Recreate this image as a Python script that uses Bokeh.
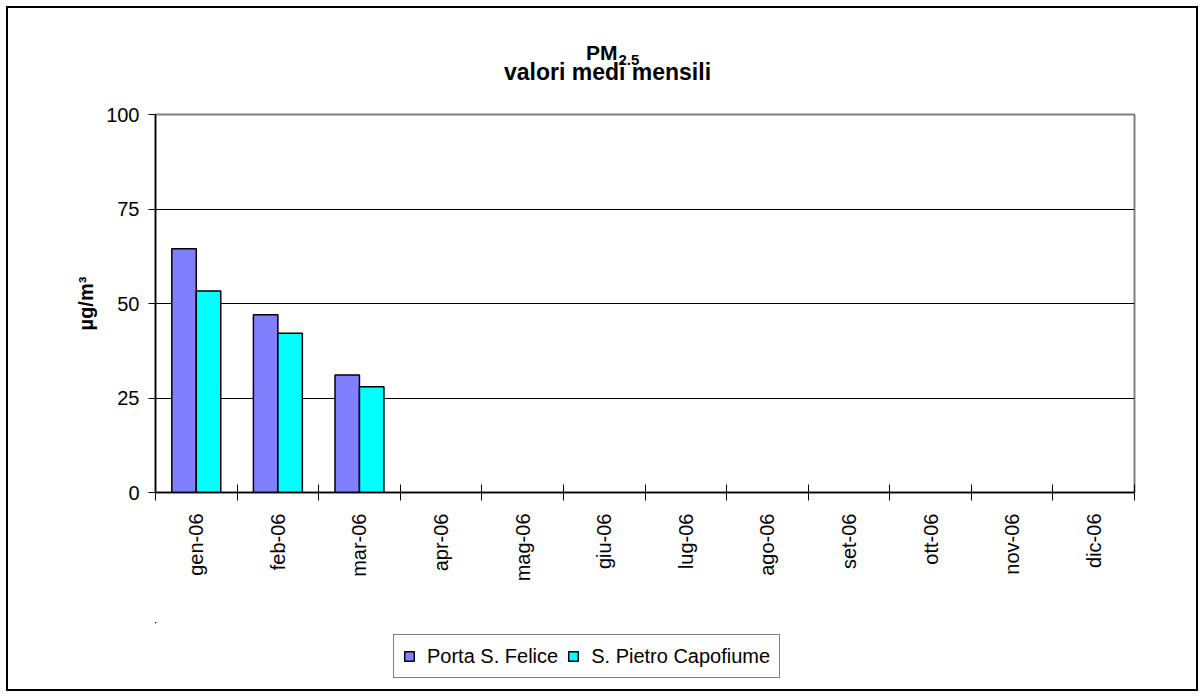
import math
from bokeh.plotting import figure
from bokeh.layouts import column
from bokeh.models import (Range1d, FixedTicker, Legend, LegendItem, ColumnDataSource, Label)
from bokeh.embed import file_html
from bokeh.resources import INLINE

# ---- data ----
months = ["gen-06", "feb-06", "mar-06", "apr-06", "mag-06", "giu-06",
          "lug-06", "ago-06", "set-06", "ott-06", "nov-06", "dic-06"]
porta_s_felice = [64.5, 47.0, 31.1]          # only first three months available
s_pietro_capofiume = [53.3, 42.1, 28.0]
y_ticks = [0, 25, 50, 75, 100]
series_names = ["Porta S. Felice", "S. Pietro Capofiume"]
series_colors = ["#8080FF", "#00FFFF"]
title_main = "PM"
title_sub = "2.5"
title_line2 = "valori medi mensili"
y_label = "µg/m³"

FONT = "Liberation Sans"
LEFT, RIGHT, FRAME_W = 155, 70, 979

n = len(months)
centers = [i + 0.5 for i in range(n)]
bar_w = 0.3

src1 = ColumnDataSource(dict(x=[centers[i] - bar_w / 2 for i in range(len(porta_s_felice))],
                             top=porta_s_felice))
src2 = ColumnDataSource(dict(x=[centers[i] + bar_w / 2 for i in range(len(s_pietro_capofiume))],
                             top=s_pietro_capofiume))


def strip(frame_h):
    f = figure(frame_width=FRAME_W, frame_height=frame_h,
               min_border_left=LEFT, min_border_right=RIGHT,
               min_border_top=0, min_border_bottom=0,
               x_axis_location=None, y_axis_location=None,
               output_backend="svg", toolbar_location=None, tools="", title=None)
    f.outline_line_color = None
    f.background_fill_alpha = 0
    f.border_fill_alpha = 0
    f.grid.visible = False
    return f


# ---------------- title strip (frame in pixel units) ----------------
hd = strip(95)
hd.x_range = Range1d(0, FRAME_W)
hd.y_range = Range1d(0, 95)
hd.add_layout(Label(x=462, y=43, text=title_main, text_align="right", text_baseline="alphabetic",
                    text_font=FONT, text_font_style="bold", text_font_size="21px", text_color="black"))
hd.add_layout(Label(x=463, y=36, text=title_sub, text_align="left", text_baseline="alphabetic",
                    text_font=FONT, text_font_style="bold", text_font_size="15px", text_color="black"))
hd.add_layout(Label(x=452, y=24, text=title_line2, text_align="center", text_baseline="alphabetic",
                    text_font=FONT, text_font_style="bold", text_font_size="23px", text_color="black"))

# ---------------- main chart ----------------
p = figure(frame_width=FRAME_W, frame_height=378,
           min_border_left=LEFT, min_border_right=RIGHT,
           min_border_top=19, min_border_bottom=130,
           x_range=Range1d(0, n), y_range=Range1d(y_ticks[0], y_ticks[-1]),
           output_backend="svg", toolbar_location=None, tools="", title=None)
p.background_fill_color = "white"
p.border_fill_alpha = 0
p.outline_line_color = "#808080"
p.outline_line_width = 2

p.vbar(x="x", top="top", width=bar_w, bottom=0, source=src1,
       fill_color=series_colors[0], line_color="black", line_width=1.5)
p.vbar(x="x", top="top", width=bar_w, bottom=0, source=src2,
       fill_color=series_colors[1], line_color="black", line_width=1.5)

xa = p.xaxis[0]
xa.ticker = FixedTicker(ticks=centers, minor_ticks=list(range(n + 1)))
xa.major_label_overrides = {c: m for c, m in zip(centers, months)}
xa.major_tick_in = 0
xa.major_tick_out = 0
xa.minor_tick_in = 8
xa.minor_tick_out = 8
xa.minor_tick_line_color = "black"
xa.axis_line_color = "black"
xa.axis_line_width = 1.5
xa.major_label_orientation = math.pi / 2
xa.major_label_standoff = 13
xa.major_label_text_font = FONT
xa.major_label_text_font_size = "20px"
xa.major_label_text_color = "black"

ya = p.yaxis[0]
ya.ticker = FixedTicker(ticks=y_ticks)
ya.major_tick_in = 0
ya.major_tick_out = 7
ya.minor_tick_out = 0
ya.minor_tick_in = 0
ya.major_tick_line_color = "black"
ya.axis_line_color = "black"
ya.axis_line_width = 1.5
ya.major_label_standoff = 9
ya.major_label_text_font = FONT
ya.major_label_text_font_size = "20px"
ya.major_label_text_color = "black"
ya.axis_label = y_label
ya.axis_label_text_font = FONT
ya.axis_label_text_font_style = "bold"
ya.axis_label_text_font_size = "20px"
ya.axis_label_text_color = "black"
ya.axis_label_standoff = 6

p.xgrid.visible = False
p.ygrid.ticker = FixedTicker(ticks=y_ticks[1:-1])
p.ygrid.grid_line_color = "black"
p.ygrid.grid_line_width = 1

# ---------------- legend strip ----------------
lg = strip(75)
lg.x_range = Range1d(100, 100 + n)      # key bars lie far outside this strip's view
lg.y_range = Range1d(-200, -199)
k1 = lg.vbar(x="x", top="top", width=bar_w, bottom=0, source=src1,
             fill_color=series_colors[0], line_color="black", line_width=1.5)
k2 = lg.vbar(x="x", top="top", width=bar_w, bottom=0, source=src2,
             fill_color=series_colors[1], line_color="black", line_width=1.5)

legend = Legend(items=[LegendItem(label=series_names[0], renderers=[k1]),
                       LegendItem(label=series_names[1], renderers=[k2])],
                location=(238, 19), orientation="horizontal",
                glyph_width=12, glyph_height=12, label_standoff=12, spacing=9,
                padding=9, margin=0, label_height=24,
                label_text_font=FONT, label_text_font_size="20px", label_text_color="black",
                border_line_color="black", border_line_width=1,
                background_fill_color="white", background_fill_alpha=1)
lg.add_layout(legend, "center")

layout = column(hd, p, lg, spacing=0,
                styles={"background-color": "white",
                        "box-shadow": "inset 0 0 0 6px white, inset 0 0 0 8px black"})

open("out.html", "w").write(file_html(layout, INLINE))
